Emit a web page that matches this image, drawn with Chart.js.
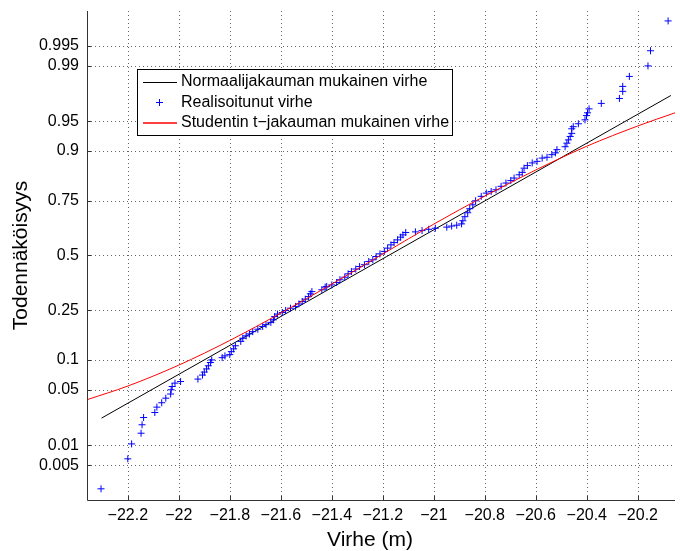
<!DOCTYPE html>
<html>
<head>
<meta charset="utf-8">
<script src="https://cdn.jsdelivr.net/npm/chart.js@4.4.0/dist/chart.umd.min.js"></script>
<style>
    html, body { margin: 0; padding: 0; background: #fff; }
    #wrap { width: 680px; height: 551px; position: relative; }
</style>
</head>
<body>
<div id="wrap"><canvas id="myChart"></canvas></div>
<script>
// akselien jaot
var xTicks = [-22.2, -22, -21.8, -21.6, -21.4, -21.2, -21, -20.8, -20.6, -20.4, -20.2];
var yTicks = [0.005, 0.01, 0.05, 0.1, 0.25, 0.5, 0.75, 0.9, 0.95, 0.99, 0.995];

// normaalijakauman suora (päätepisteet)
var normX = [-22.303, -20.07];
var normP = [0.023, 0.9752];

// studentin t-jakauman käyrä
var studX = [-22.36, -22.2, -22.0, -21.8, -21.6, -21.4, -21.2, -21.0, -20.8, -20.6, -20.4, -20.2, -20.054];
var studP = [0.0384, 0.0546, 0.0893, 0.1485, 0.2398, 0.3626, 0.5074, 0.650, 0.767, 0.853, 0.910, 0.944, 0.960];

// realisoitunut virhe
var realX = [
    -22.305, -22.200, -22.185, -22.148, -22.144, -22.138, -22.094, -22.086, -22.067, -22.051,
    -22.032, -22.030, -22.026, -22.015, -21.993, -21.925, -21.907, -21.900, -21.891, -21.884,
    -21.876, -21.871, -21.830, -21.819, -21.800, -21.794, -21.785, -21.778, -21.757, -21.749,
    -21.736, -21.723, -21.710, -21.690, -21.671, -21.658, -21.639, -21.629, -21.624, -21.613,
    -21.594, -21.581, -21.562, -21.542, -21.529, -21.516, -21.504, -21.491, -21.484, -21.478,
    -21.439, -21.426, -21.420, -21.400, -21.381, -21.368, -21.349, -21.336, -21.323, -21.306,
    -21.291, -21.272, -21.255, -21.239, -21.226, -21.211, -21.194, -21.181, -21.168, -21.156,
    -21.142, -21.130, -21.121, -21.110, -21.072, -21.046, -21.020, -20.994, -20.949, -20.930,
    -20.910, -20.891, -20.886, -20.878, -20.867, -20.859, -20.847, -20.836, -20.814, -20.794,
    -20.775, -20.756, -20.736, -20.717, -20.698, -20.685, -20.665, -20.653, -20.646, -20.633,
    -20.614, -20.595, -20.575, -20.556, -20.537, -20.523, -20.517, -20.485, -20.478, -20.472,
    -20.465, -20.459, -20.459, -20.453, -20.433, -20.407, -20.401, -20.397, -20.391, -20.343,
    -20.272, -20.259, -20.259, -20.233, -20.160, -20.150, -20.081
];
var realP = [
    0.0021, 0.0063, 0.0104, 0.0146, 0.0189, 0.0234, 0.0270, 0.0314, 0.0354, 0.0400,
    0.0446, 0.0497, 0.0540, 0.0587, 0.0610, 0.0647, 0.0712, 0.0763, 0.0820, 0.0880,
    0.0946, 0.1000, 0.1050, 0.1090, 0.1120, 0.1190, 0.1260, 0.1340, 0.146, 0.155,
    0.162, 0.168, 0.175, 0.183, 0.192, 0.198, 0.206, 0.215, 0.227, 0.236,
    0.242, 0.250, 0.259, 0.266, 0.276, 0.286, 0.296, 0.307, 0.319, 0.329,
    0.337, 0.349, 0.352, 0.359, 0.370, 0.383, 0.395, 0.411, 0.422, 0.434,
    0.446, 0.455, 0.471, 0.479, 0.495, 0.508, 0.520, 0.536, 0.552, 0.563,
    0.576, 0.589, 0.600, 0.611, 0.614, 0.620, 0.626, 0.631, 0.636, 0.641,
    0.645, 0.651, 0.665, 0.683, 0.700, 0.717, 0.733, 0.749, 0.766, 0.778,
    0.784, 0.790, 0.802, 0.813, 0.821, 0.829, 0.839, 0.846, 0.858, 0.865,
    0.872, 0.876, 0.884, 0.886, 0.892, 0.896, 0.903, 0.909, 0.916, 0.922,
    0.928, 0.933, 0.940, 0.943, 0.947, 0.952, 0.957, 0.960, 0.964, 0.969,
    0.973, 0.978, 0.981, 0.986, 0.990, 0.994, 0.998
];

var labels = ['Normaalijakauman mukainen virhe', 'Realisoitunut virhe', 'Studentin t\u2212jakauman mukainen virhe'];

function Phi(z) {
    var x = Math.abs(z) / Math.SQRT2;
    var t = 1 / (1 + 0.3275911 * x);
    var y = 1 - (((((1.061405429 * t - 1.453152027) * t) + 1.421413741) * t - 0.284496736) * t + 0.254829592) * t * Math.exp(-x * x);
    return z >= 0 ? 0.5 * (1 + y) : 0.5 * (1 - y);
}
function probit(p) {
    var lo = -8, hi = 8;
    for (var i = 0; i < 60; i++) {
        var mid = (lo + hi) / 2;
        if (Phi(mid) < p) lo = mid; else hi = mid;
    }
    return (lo + hi) / 2;
}

// todennäköisyysasteikko (normplot)
class ProbitScale extends Chart.LinearScale {
    getPixelForValue(value) {
        var z0 = probit(this.min), z1 = probit(this.max);
        return this.getPixelForDecimal((probit(value) - z0) / (z1 - z0));
    }
    getValueForPixel(pixel) {
        var z0 = probit(this.min), z1 = probit(this.max);
        return Phi(z0 + this.getDecimalForPixel(pixel) * (z1 - z0));
    }
}
ProbitScale.id = 'probit';
ProbitScale.defaults = Chart.LinearScale.defaults;
Chart.register(ProbitScale);

function pts(xs, ps) {
    var out = [];
    for (var i = 0; i < xs.length; i++) out.push({x: xs[i], y: ps[i]});
    return out;
}

var FONT = '"Liberation Sans", Arial, Helvetica, sans-serif';
Chart.defaults.font.family = FONT;
Chart.defaults.color = '#000';

// pisteviivoitettu ruudukko
var dotGrid = {
    id: 'dotGrid',
    beforeDatasetsDraw: function (chart) {
        var ctx = chart.ctx;
        var a = chart.chartArea;
        var xs = chart.scales.x, ys = chart.scales.y;
        ctx.save();
        ctx.strokeStyle = 'rgba(0,0,0,0.6)';
        ctx.lineWidth = 1;
        ctx.setLineDash([1, 3]);
        ctx.beginPath();
        xTicks.forEach(function (v) {
            var px = Math.round(xs.getPixelForValue(v)) + 0.5;
            ctx.moveTo(px, a.top); ctx.lineTo(px, a.bottom);
        });
        yTicks.forEach(function (v) {
            var py = Math.round(ys.getPixelForValue(v)) + 0.5;
            ctx.moveTo(a.left, py); ctx.lineTo(a.right, py);
        });
        ctx.stroke();
        ctx.restore();
    }
};

var extras = {
    id: 'extras',
    afterDraw: function (chart) {
        var ctx = chart.ctx;
        var a = chart.chartArea;
        var xs = chart.scales.x, ys = chart.scales.y;
        ctx.save();
        // akselit ja sisäänpäin olevat jakoviivat
        ctx.strokeStyle = '#333';
        ctx.lineWidth = 1;
        ctx.beginPath();
        ctx.moveTo(a.left + 0.5, a.top); ctx.lineTo(a.left + 0.5, a.bottom + 0.5);
        ctx.lineTo(a.right, a.bottom + 0.5);
        xTicks.forEach(function (v) {
            var px = Math.round(xs.getPixelForValue(v)) + 0.5;
            ctx.moveTo(px, a.bottom); ctx.lineTo(px, a.bottom - 4);
        });
        yTicks.forEach(function (v) {
            var py = Math.round(ys.getPixelForValue(v)) + 0.5;
            ctx.moveTo(a.left, py); ctx.lineTo(a.left + 4, py);
        });
        ctx.stroke();

        // x-akselin otsikko
        ctx.fillStyle = '#000';
        ctx.font = '21px ' + FONT;
        ctx.textAlign = 'center';
        ctx.textBaseline = 'middle';
        ctx.fillText('Virhe (m)', 370, 540);

        // selite
        ctx.fillStyle = '#fff';
        ctx.fillRect(137.5, 69.5, 315, 66);
        ctx.strokeStyle = '#000';
        ctx.strokeRect(137.5, 69.5, 315, 66);
        ctx.font = '16px ' + FONT;
        ctx.textAlign = 'left';
        var y0 = 82;
        ctx.beginPath(); ctx.strokeStyle = '#000';
        ctx.moveTo(143, y0 + 0.5); ctx.lineTo(177, y0 + 0.5); ctx.stroke();
        ctx.beginPath(); ctx.strokeStyle = '#0000ff';
        ctx.moveTo(159.5, y0 + 17); ctx.lineTo(159.5, y0 + 24);
        ctx.moveTo(156, y0 + 20.5); ctx.lineTo(163, y0 + 20.5); ctx.stroke();
        ctx.beginPath(); ctx.strokeStyle = '#ff0000'; ctx.lineWidth = 1.5;
        ctx.moveTo(143, y0 + 41); ctx.lineTo(177, y0 + 41); ctx.stroke();
        ctx.fillStyle = '#000';
        for (var i = 0; i < labels.length; i++) {
            ctx.fillText(labels[i], 181, y0 + i * 20.5);
        }
        ctx.restore();
    }
};

const ctx = document.getElementById('myChart').getContext('2d');
const chart = new Chart(ctx, {
    type: 'scatter',
    data: {
        datasets: [{
            label: labels[0],
            data: pts(normX, normP),
            showLine: true,
            borderColor: '#000',
            borderWidth: 1,
            pointRadius: 0,
            order: 3
        }, {
            label: labels[1],
            data: pts(realX, realP),
            showLine: false,
            pointStyle: 'cross',
            pointRadius: 3.5,
            borderColor: '#0000ff',
            backgroundColor: '#0000ff',
            borderWidth: 1,
            order: 2
        }, {
            label: labels[2],
            data: pts(studX, studP),
            showLine: true,
            cubicInterpolationMode: 'monotone',
            borderColor: '#ff0000',
            borderWidth: 1,
            pointRadius: 0,
            order: 1
        }]
    },
    options: {
        responsive: true,
        maintainAspectRatio: false,
        animation: false,
        events: [],
        layout: { padding: { left: 0, right: 0, top: 11, bottom: 0 } },
        plugins: {
            legend: { display: false },
            tooltip: { enabled: false }
        },
        scales: {
            x: {
                type: 'linear',
                bounds: 'data',
                min: -22.36,
                max: -20.054,
                afterBuildTicks: function (scale) {
                    scale.ticks = xTicks.map(function (v) { return {value: v}; });
                },
                afterFit: function (scale) {
                    scale.height = 51;
                    scale.paddingLeft = 0;
                    scale.paddingRight = 0;
                },
                ticks: {
                    padding: 6,
                    maxRotation: 0,
                    autoSkip: false,
                    font: { size: 16 },
                    callback: function (v) { return (v < 0 ? '\u2212' : '') + Math.abs(v); }
                },
                grid: { display: false, drawTicks: false },
                border: { display: false }
            },
            y: {
                type: 'probit',
                bounds: 'data',
                min: Phi(-3),
                max: Phi(3),
                afterBuildTicks: function (scale) {
                    scale.ticks = yTicks.map(function (v) { return {value: v}; });
                },
                afterFit: function (scale) {
                    scale.width = 87;
                    scale.paddingTop = 0;
                    scale.paddingBottom = 0;
                },
                ticks: {
                    padding: 8,
                    autoSkip: false,
                    font: { size: 16 },
                    callback: function (v) { return String(v); }
                },
                grid: { display: false, drawTicks: false },
                border: { display: false },
                title: {
                    display: true,
                    text: 'Todennäköisyys',
                    font: { size: 21 },
                    padding: { top: 9, bottom: 0 }
                }
            }
        }
    },
    plugins: [dotGrid, extras]
});
</script>
</body>
</html>
